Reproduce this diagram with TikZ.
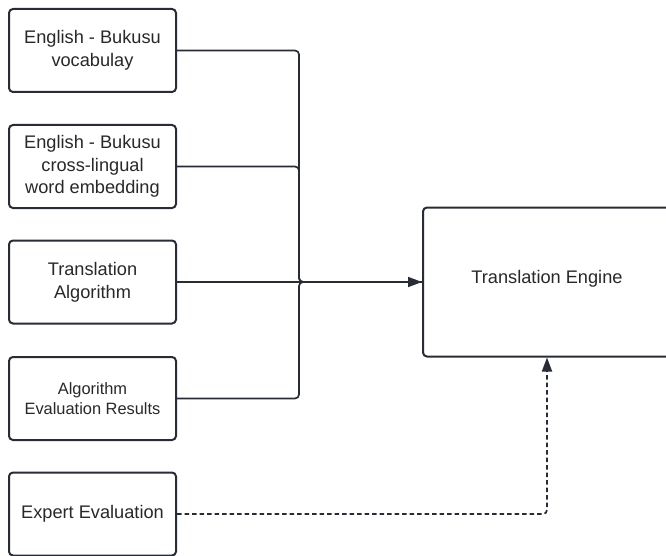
\documentclass[tikz,border=0pt]{standalone}
\usepackage{fontspec}
\setmainfont{Liberation Sans}
\usetikzlibrary{arrows.meta}
\definecolor{ln}{RGB}{40,44,52}
\definecolor{tx}{RGB}{40,40,40}
\tikzset{
  srcbox/.style={draw=ln, line width=2pt, rounded corners=4pt, minimum width=167pt, minimum height=83pt, inner sep=0pt, align=center, text=tx, font=\fontsize{18.2}{22.7}\selectfont},
  engbox/.style={draw=ln, line width=2pt, rounded corners=4pt, minimum width=248pt, minimum height=149pt, inner sep=0pt, align=center, text=tx},
  conn/.style={draw=ln, line width=1.7pt, rounded corners=4pt},
  tip/.style={-{Triangle[length=14pt,width=10pt]}},
  dconn/.style={conn, dash pattern=on 4.5pt off 3pt}
}
\begin{document}
\begin{tikzpicture}[x=1pt,y=-1pt]
\clip (0,0) rectangle (666,556);
\fill[white] (0,0) rectangle (666,556);
\node[srcbox] (b1) at (92.5,50.5) {English - Bukusu\\vocabulay};
\node[srcbox] (b2) at (92.5,166.5) {English - Bukusu\\cross-lingual\\word embedding};
\node[srcbox] (b3) at (92.5,282) {Translation\\Algorithm};
\node[srcbox, font=\fontsize{16.4}{20.7}\selectfont] (b4) at (92.5,398.5) {Algorithm\\Evaluation Results};
\node[srcbox] (b5) at (92.5,514) {Expert Evaluation};
\node[engbox] (eng) at (547,282) {};
\node[text=tx, font=\fontsize{18.2}{22.7}\selectfont] (englabel) at (547,279) {Translation Engine};
\coordinate (j) at (299,282);
\draw[conn] (b1.east) -| (j) -- (eng.west);
\draw[conn] (b2.east) -| (j) -- (eng.west);
\draw[conn] (b4.east) -| (j) -- (eng.west);
\draw[conn, tip] (b3.east) -- (eng.west);
\draw[dconn, tip] (b5.east) -| (eng.south);
\end{tikzpicture}
\end{document}
